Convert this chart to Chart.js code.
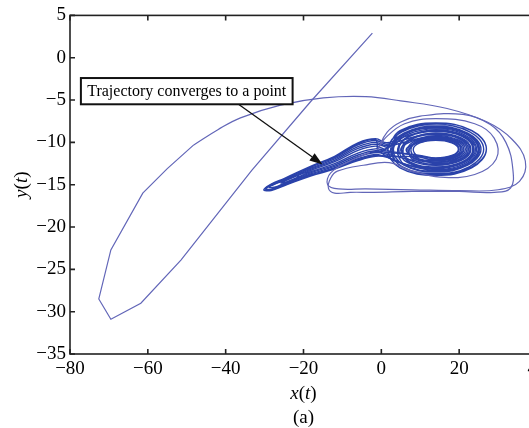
<!DOCTYPE html>
<html>
<head>
<meta charset="utf-8">
<script src="https://cdn.jsdelivr.net/npm/chart.js@4/dist/chart.umd.min.js"></script>
<style>
  html, body { margin: 0; padding: 0; background: #fff; overflow: hidden; }
  #wrap { width: 529px; height: 428px; overflow: hidden; }
</style>
</head>
<body>
<div id="wrap"><canvas id="phase" width="560" height="428"></canvas></div>
<script>
// axis ranges / ticks
const xTicks = [-80, -60, -40, -20, 0, 20, 40];
const yTicks = [-35, -30, -25, -20, -15, -10, -5, 0, 5];

// transient part of the trajectory (coarse steps, straight segments)
const transient = [
  [-2.3, 2.9], [-18.2, -5.2], [-33.3, -13.3], [-51.5, -23.9], [-61.8, -29.0],
  [-69.5, -30.9], [-72.6, -28.5], [-69.5, -22.7], [-61.3, -16.0], [-55.0, -13.1], [-48.2, -10.3]
];

// big outer arc going round the attractor
const outerArc = [
  [-48.2, -10.3], [-42, -8.5], [-36.2, -7.1], [-25.9, -5.6], [-14.9, -4.75], [-4, -4.6], [5, -5.1],
  [16.9, -6.0], [27.2, -7.6], [33.5, -9.6], [37, -12.2], [35.5, -14.6], [30, -15.6], [20, -15.7],
  [8, -15.6], [-4, -15.5], [-11, -15.5], [-13.8, -15.0], [-13.0, -13.6], [-8, -12.2], [-3, -11.2]
];

// spiral loops around the focus
const spiralA = [
  [1.0, -10.8], [4.8, -8.6], [14, -7.7], [23.2, -8.6], [27, -10.8], [23.2, -13.0], [14, -13.9], [4.8, -13.0],
  [1.7, -10.8], [5.3, -8.75], [14, -7.9], [22.7, -8.75], [26.3, -10.8], [22.7, -12.85], [14, -13.7], [5.3, -12.85],
  [2.4, -10.8], [5.8, -8.9], [14, -8.1], [22.2, -8.9], [25.6, -10.8], [22.2, -12.7], [14, -13.5], [5.8, -12.7],
  [3.1, -10.8], [6.3, -9.0], [14, -8.3], [21.7, -9.0], [24.9, -10.8], [21.7, -12.6], [14, -13.3], [6.3, -12.6]
];
// excursions along the band to the left tip and back
const tripA = [
  [1.5, -11.76], [-1.5, -11.65], [-6, -12.15], [-12, -13.16], [-18.2, -13.97], [-25, -15.13], [-28.3, -15.68],
  [-30.2, -15.6], [-28.3, -14.92], [-25, -14.27], [-18.2, -12.83], [-12, -11.64], [-6, -10.05], [-1.5, -9.56], [1.5, -10.05]
];
const spiralB = [
  [6.8, -9.2], [14, -8.5], [21.2, -9.2], [24.2, -10.8], [21.2, -12.4], [14, -13.1], [6.8, -12.4],
  [4.5, -10.8], [7.3, -9.3], [14, -8.7], [20.7, -9.3], [23.5, -10.8], [20.7, -12.3], [14, -12.9], [7.3, -12.3],
  [5.2, -10.8], [7.8, -9.5], [14, -8.95], [20.2, -9.5], [22.8, -10.8], [20.2, -12.1], [14, -12.65], [7.8, -12.1]
];
const tripB = [
  [1.5, -11.4], [-1.5, -11.2], [-6, -11.7], [-12, -12.84], [-18.2, -13.73], [-25, -14.95], [-28.3, -15.52],
  [-29.6, -15.5], [-28.3, -15.08], [-25, -14.45], [-18.2, -13.07], [-12, -11.96], [-6, -10.5], [-1.5, -10.0], [1.5, -10.4]
];
const spiralC = [
  [8.3, -9.7], [14, -9.2], [19.7, -9.7], [22, -10.8], [19.7, -11.9], [14, -12.4], [8.3, -11.9],
  [6.8, -10.8], [8.9, -9.8], [14, -9.4], [19.1, -9.8], [21.2, -10.8], [19.1, -11.8], [14, -12.2], [8.9, -11.8],
  [7.6, -10.8], [9.5, -9.95], [14, -9.6], [18.5, -9.95], [20.4, -10.8], [18.5, -11.65], [14, -12.0], [9.5, -11.65],
  [8.2, -10.8], [9.9, -10.05], [14, -9.75], [18.1, -10.05], [19.8, -10.8], [18.1, -11.55], [14, -11.85], [9.9, -11.55]
];
const tripC = [
  [1.5, -11.04], [-1.5, -10.77], [-6, -11.27], [-12, -12.52], [-18.2, -13.49], [-24, -14.6],
  [-25.8, -14.8], [-24, -14.4], [-18.2, -13.31], [-12, -12.28], [-6, -10.94], [-1.5, -10.44], [1.5, -10.77]
];
const spiralD = [
  [5.3, -8.6], [14.3, -7.75], [23.3, -8.6], [27, -10.75], [23.3, -12.9], [14.3, -13.75], [5.3, -12.9],
  [2.8, -10.8], [6.1, -8.95], [14, -8.2], [21.9, -8.95], [25.2, -10.8], [21.9, -12.65], [14, -13.4], [6.1, -12.65],
  [4.2, -10.8], [7.1, -9.25], [14, -8.6], [20.9, -9.25], [23.8, -10.8], [20.9, -12.35], [14, -13.0], [7.1, -12.35],
  [5.6, -10.8], [8.1, -9.55], [14, -9.05], [19.9, -9.55], [22.4, -10.8], [19.9, -12.05], [14, -12.55], [8.1, -12.05],
  [7.2, -10.8], [9.2, -9.9], [14, -9.5], [18.8, -9.9], [20.8, -10.8], [18.8, -11.7], [14, -12.1], [9.2, -11.7]
];
const tripD = [
  [1.5, -11.67], [-1.5, -11.54], [-6, -12.04], [-12, -13.08], [-18.2, -13.91],
  [-21.5, -14.1], [-18.2, -12.89], [-12, -11.72], [-6, -10.17], [-1.5, -9.67], [-1, -10.9]
];
// second excursion: over the top, down the right side, back underneath, then a wide loop
const arc2 = [
  [-1, -10.9], [1.5, -8.8], [5, -7.6], [10, -6.9], [21, -6.7], [28, -7.9], [32, -10], [33.8, -13.2],
  [33.2, -15.4], [29, -15.9], [20, -15.8], [8, -15.8], [-2, -15.9], [-8, -15.9], [-12, -16.0],
  [-13.6, -15.4], [-13, -14.2], [-11.3, -13.4], [-4.6, -12.7], [2, -12.4], [7.4, -13.3], [15.1, -14.1],
  [24, -13.8], [29.5, -12], [29, -9.5], [24, -7.8], [14, -7.2], [6, -7.8], [1, -9.5], [-1, -10.9]
];
const loopE = [
  [3.5, -12.2], [14, -13.2], [21.4, -12.5], [24.5, -10.8], [21.4, -9.1], [14, -8.4], [6.6, -9.1], [2.5, -10.8]
];
const tripE = [
  [1.5, -11.58], [-1.5, -11.43], [-6, -11.93], [-12, -13.0], [-18.2, -13.85], [-25, -15.04], [-28.3, -15.6],
  [-29.9, -15.55], [-28.3, -15.0], [-25, -14.36], [-18.2, -12.95], [-12, -11.8], [-6, -10.28], [-1.5, -9.78], [1.5, -10.23]
];
const spiralF = [
  [7.6, -9.45], [14, -8.9], [20.4, -9.45], [23, -10.8], [20.4, -12.15], [14, -12.7], [7.6, -12.15], [5, -10.8],
  [8.6, -9.75], [14, -9.3], [19.4, -9.75], [21.6, -10.8], [19.4, -11.85], [14, -12.3], [8.6, -11.85], [6.4, -10.8],
  [9.8, -10.0], [14, -9.7], [18.2, -10.0], [20, -10.8], [18.2, -11.6], [14, -11.9], [9.8, -11.6], [5, -11.3]
];
const tripF = [
  [1.5, -11.2], [-1.5, -10.99], [-6, -11.49], [-12, -12.68], [-18.2, -13.61], [-25, -14.86], [-27.5, -15.3],
  [-28.8, -15.3], [-27.5, -14.95], [-25, -14.54], [-18.2, -13.19], [-12, -12.12], [-6, -10.72], [-1.5, -10.22], [1.5, -10.6]
];

const core1 = [outerArc[outerArc.length - 1]].concat(spiralA, tripA, spiralB, tripB, spiralC, tripC, spiralD, tripD);
const core2 = [arc2[arc2.length - 1]].concat(loopE, tripE, spiralF, tripF);

// annotation (data units)
const noteText = 'Trajectory converges to a point';
const noteBox = { x0: -77.2, y0: -2.4, x1: -22.8, y1: -5.5 };
const arrowFrom = [-36.7, -5.5];
const arrowTo = [-15.1, -12.6];

const thinColor = 'rgb(98,102,184)';
const coreColor = 'rgb(42,66,170)';
const serif = '"Liberation Serif", "Times New Roman", serif';
const toPts = arr => arr.map(p => ({ x: p[0], y: p[1] }));
const fmt = v => (v < 0 ? '\u2212' + Math.abs(v) : String(v));

function trace(points, color, width, tension) {
  return {
    data: toPts(points),
    showLine: true,
    borderColor: color,
    borderWidth: width,
    pointRadius: 0,
    tension: tension
  };
}

// draws text where some parts are italic
function mixedText(ctx, parts, cx, cy, size) {
  let total = 0;
  parts.forEach(p => {
    ctx.font = (p[1] ? 'italic ' : '') + size + 'px ' + serif;
    total += ctx.measureText(p[0]).width;
  });
  let x = cx - total / 2;
  ctx.textAlign = 'left';
  ctx.textBaseline = 'middle';
  parts.forEach(p => {
    ctx.font = (p[1] ? 'italic ' : '') + size + 'px ' + serif;
    ctx.fillText(p[0], x, cy);
    x += ctx.measureText(p[0]).width;
  });
}

const matlabFrame = {
  id: 'matlabFrame',
  afterDraw(chart) {
    const { ctx, chartArea: a, scales: { x, y } } = chart;
    ctx.save();
    ctx.strokeStyle = '#222';
    ctx.lineWidth = 1.6;
    ctx.strokeRect(a.left, a.top, a.right - a.left, a.bottom - a.top);
    ctx.beginPath();
    x.ticks.forEach(t => {
      const px = x.getPixelForValue(t.value);
      ctx.moveTo(px, a.bottom); ctx.lineTo(px, a.bottom - 5);
      ctx.moveTo(px, a.top); ctx.lineTo(px, a.top + 5);
    });
    y.ticks.forEach(t => {
      const py = y.getPixelForValue(t.value);
      ctx.moveTo(a.left, py); ctx.lineTo(a.left + 5, py);
      ctx.moveTo(a.right, py); ctx.lineTo(a.right - 5, py);
    });
    ctx.stroke();

    // axis titles and caption
    ctx.fillStyle = '#000';
    mixedText(ctx, [['x', true], ['(', false], ['t', true], [')', false]], (a.left + a.right) / 2, 394, 19);
    ctx.font = '19px ' + serif;
    ctx.textAlign = 'center';
    ctx.fillText('(a)', (a.left + a.right) / 2, 418);
    ctx.save();
    ctx.translate(22, (a.top + a.bottom) / 2);
    ctx.rotate(-Math.PI / 2);
    mixedText(ctx, [['y', true], ['(', false], ['t', true], [')', false]], 0, 0, 19);
    ctx.restore();

    // annotation arrow
    const ax0 = x.getPixelForValue(arrowFrom[0]), ay0 = y.getPixelForValue(arrowFrom[1]);
    const ax1 = x.getPixelForValue(arrowTo[0]), ay1 = y.getPixelForValue(arrowTo[1]);
    const ang = Math.atan2(ay1 - ay0, ax1 - ax0);
    const hl = 13, hw = 4.5;
    const bx = ax1 - hl * Math.cos(ang), by = ay1 - hl * Math.sin(ang);
    ctx.strokeStyle = '#111';
    ctx.lineWidth = 1.3;
    ctx.beginPath();
    ctx.moveTo(ax0, ay0); ctx.lineTo(bx, by);
    ctx.stroke();
    ctx.fillStyle = '#111';
    ctx.beginPath();
    ctx.moveTo(ax1, ay1);
    ctx.lineTo(bx + hw * Math.sin(ang), by - hw * Math.cos(ang));
    ctx.lineTo(bx - hw * Math.sin(ang), by + hw * Math.cos(ang));
    ctx.closePath();
    ctx.fill();

    // annotation box
    const l = x.getPixelForValue(noteBox.x0), r = x.getPixelForValue(noteBox.x1);
    const t = y.getPixelForValue(noteBox.y0), b = y.getPixelForValue(noteBox.y1);
    ctx.fillStyle = '#fff';
    ctx.fillRect(l, t, r - l, b - t);
    ctx.strokeStyle = '#111';
    ctx.lineWidth = 2;
    ctx.strokeRect(l, t, r - l, b - t);
    ctx.fillStyle = '#000';
    ctx.font = '16px ' + serif;
    ctx.textAlign = 'center';
    ctx.textBaseline = 'middle';
    ctx.fillText(noteText, (l + r) / 2, (t + b) / 2 + 1);
    ctx.restore();
  }
};

new Chart(document.getElementById('phase'), {
  type: 'scatter',
  data: {
    datasets: [
      trace(transient, thinColor, 1.2, 0),
      trace(outerArc, thinColor, 1.2, 0.4),
      trace(arc2, thinColor, 1.2, 0.4),
      trace(core1, coreColor, 1.4, 0.4),
      trace(core2, coreColor, 1.4, 0.4)
    ]
  },
  options: {
    responsive: false,
    animation: false,
    events: [],
    layout: { padding: { top: 15, right: 23, left: 0, bottom: 0 } },
    plugins: { legend: { display: false }, tooltip: { enabled: false } },
    scales: {
      x: {
        min: xTicks[0],
        max: xTicks[xTicks.length - 1],
        afterBuildTicks: s => { s.ticks = xTicks.map(v => ({ value: v })); },
        afterFit: s => { s.height = 74; },
        grid: { display: false, drawTicks: false },
        border: { display: false },
        ticks: { callback: fmt, color: '#000', padding: 4, maxRotation: 0, autoSkip: false, font: { family: serif, size: 19 } }
      },
      y: {
        min: yTicks[0],
        max: yTicks[yTicks.length - 1],
        afterBuildTicks: s => { s.ticks = yTicks.map(v => ({ value: v })); },
        afterFit: s => { s.width = 70; },
        grid: { display: false, drawTicks: false },
        border: { display: false },
        ticks: { callback: fmt, color: '#000', padding: 4, autoSkip: false, font: { family: serif, size: 19 } }
      }
    }
  },
  plugins: [matlabFrame]
});
</script>
</body>
</html>
